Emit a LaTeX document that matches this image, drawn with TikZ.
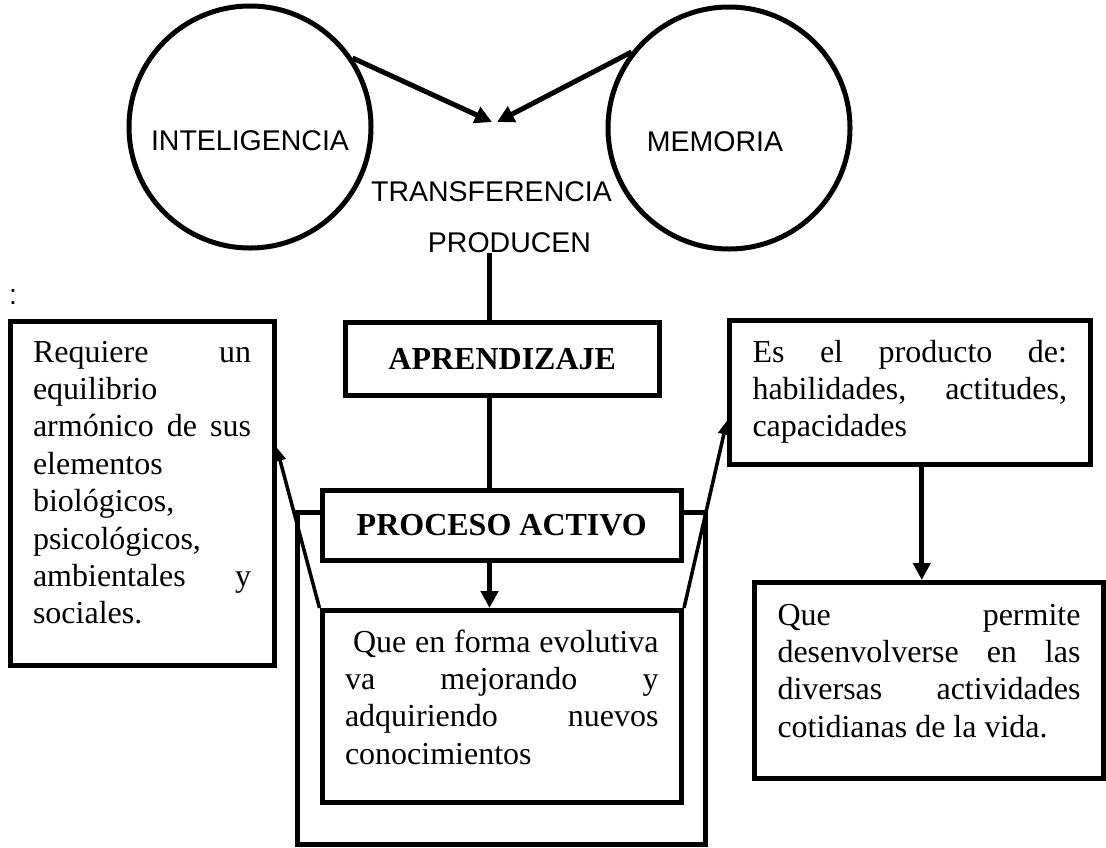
\documentclass[tikz,border=0pt]{standalone}
\usepackage{fontspec}
\setmainfont{Liberation Serif}
\setsansfont{Liberation Sans}
\usetikzlibrary{positioning,arrows.meta}

\tolerance=9999
\hyphenpenalty=10000

\tikzset{
	circulo/.style={circle, draw, line width=5pt, minimum size=242pt, inner sep=0pt},
	rotulo/.style={font=\sffamily\fontsize{28.5}{34}\selectfont, inner sep=0pt},
	caja/.style={draw, fill=white, line width=5pt, align=justify, anchor=north west, inner xsep=23pt, inner ysep=0pt, font=\fontsize{32}{37.4}\selectfont},
	titulo/.style={draw, fill=white, line width=5pt, font=\bfseries\fontsize{32}{37.4}\selectfont},
	linea/.style={line width=5pt},
	flecha/.style={line width=5pt, -{Triangle[width=17pt,length=17pt]}},
	diag/.style={line width=3.5pt, -{Triangle[width=11pt,length=14pt]}},
}

\begin{document}
\begin{tikzpicture}[x=1pt, y=-1pt]
				\useasboundingbox (0,0) rectangle (1106,847);
				
				\node[circulo, label={[rotulo, name=intel-txt, yshift=-14pt]center:INTELIGENCIA}] (intel) at (250,127) {};
				\node[circulo, label={[rotulo, name=memo-txt, xshift=-14pt, yshift=-14pt]center:MEMORIA}] (memo) at (729,128) {};
				
				\node[rotulo] (transf) at (491.5,192) {TRANSFERENCIA};
				\node[rotulo] (prod) at (509.5,243) {PRODUCEN};
				\node[rotulo, anchor=base] (dospuntos) at (13,304) {:};
				
				\coordinate (meta) at (495,122);
				\coordinate (eje) at (489.5,0);
				
				\draw[flecha] (intel.34) -- ([xshift=-3pt]meta);
				\draw[flecha] (memo.142) -- ([xshift=2pt]meta);
				
				\node[titulo, minimum width=313.5pt, minimum height=72.5pt] (aprend) at (502.25,358.75) {APRENDIZAJE};
				\draw[linea] (prod.base -| eje) -- (aprend.north -| eje);
				
				\node[draw, line width=4.5pt, minimum width=408pt, minimum height=332pt] (marco) at (501.5,678.5) {};
				\node[titulo, minimum width=358.5pt, minimum height=70pt] (proceso) at (501.75,525.5) {PROCESO ACTIVO};
				\draw[linea] (aprend.south -| eje) -- (proceso.north -| eje);
				
				\node[caja, text width=313.5pt, text height=41.5pt, text depth=150.5pt, below=45pt of proceso, anchor=north] (evol)
					{\hspace*{0.25em}Que en forma evolutiva\linebreak va mejorando y\linebreak adquiriendo nuevos\linebreak conocimientos};
				\draw[flecha] (proceso.south -| eje) -- (evol.north -| eje);
				
				\node[caja, text width=218pt, text height=41pt, text depth=303pt] (req) at (7.5,318.5)
					{Requiere un\linebreak equilibrio\newline armónico de sus\linebreak elementos\newline biológicos,\newline psicológicos,\newline ambientales y\linebreak sociales.};
				
				\node[caja, text width=314.5pt, text height=41.5pt, text depth=102.5pt] (habil) at (727,318)
					{Es el producto de:\linebreak habilidades, actitudes,\linebreak capacidades};
				\node[caja, text width=303pt, text height=42.5pt, text depth=153.5pt] (vida) at (752,580)
					{Que permite\linebreak desenvolverse en las\linebreak diversas actividades\linebreak cotidianas de la vida.};
				\draw[flecha] ([xshift=12pt]habil.south) -- ([xshift=12pt]habil.south |- vida.north);
				
				\draw[diag] (evol.north west) -- ([yshift=46pt]req.east);
				\draw[diag] (evol.north east) -- ([yshift=-28pt]habil.west);
				
			\end{tikzpicture}
\end{document}
